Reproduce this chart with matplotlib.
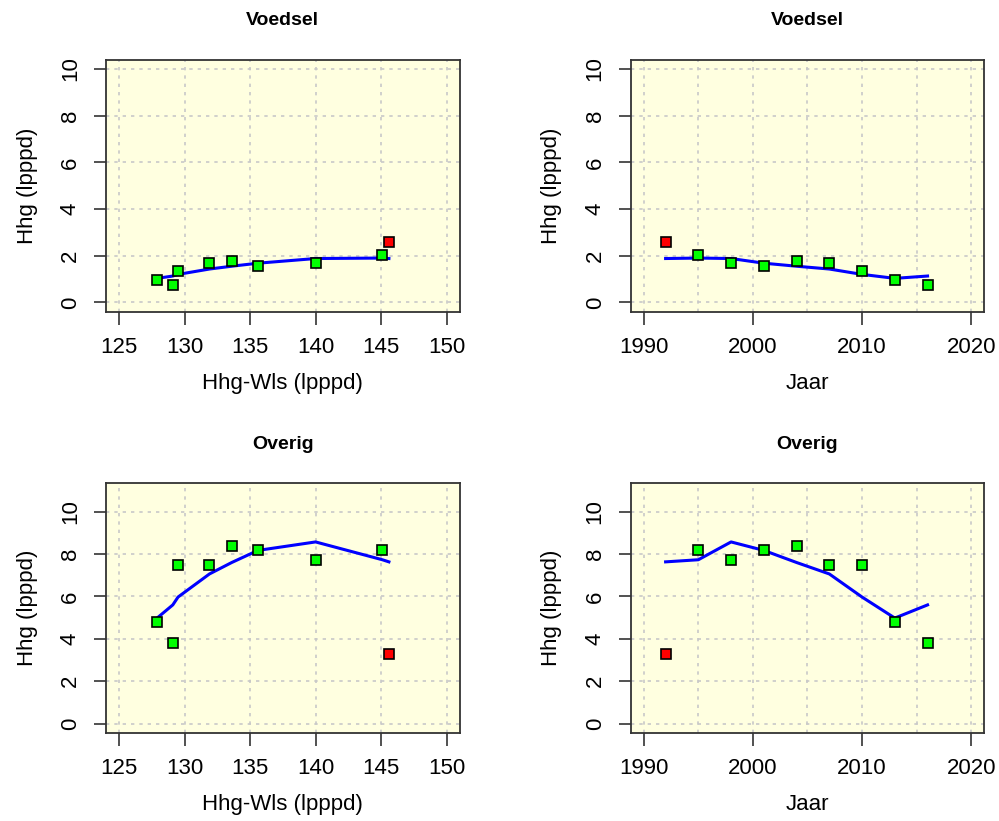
import numpy as np
import matplotlib
matplotlib.use("Agg")
import matplotlib.pyplot as plt

plt.rcParams['font.family'] = ['Liberation Sans', 'DejaVu Sans']

# data per year (first year is the outlier, drawn red)
jaar = [1992, 1995, 1998, 2001, 2004, 2007, 2010, 2013, 2016]
hhg_wls = [145.6, 145.1, 140.0, 135.6, 133.6, 131.9, 129.5, 127.9, 129.1]
voedsel = [2.6, 2.03, 1.7, 1.57, 1.77, 1.7, 1.36, 0.97, 0.76]
voedsel_fit = [1.88, 1.9, 1.88, 1.68, 1.55, 1.43, 1.2, 1.03, 1.13]
overig = [3.3, 8.19, 7.7, 8.19, 8.4, 7.49, 7.49, 4.81, 3.79]
overig_fit = [7.63, 7.73, 8.57, 8.17, 7.6, 7.06, 5.97, 4.98, 5.6]
uitschieter = [True, False, False, False, False, False, False, False, False]

xticks_wls = [125, 130, 135, 140, 145, 150]
xticks_jaar = [1990, 2000, 2010, 2020]
xgrid_jaar = [1990, 1995, 2000, 2005, 2010, 2015, 2020]
yticks = [0, 2, 4, 6, 8, 10]

fig = plt.figure(figsize=(9.99, 8.21), dpi=100)

lefts = [0.1061, 0.6313]
width = 0.3540
bottoms = [0.6203, 0.1072]
heights = [0.3070, 0.3040]
ylims = [(-0.4, 10.4), (-0.44, 11.33)]


def panel(ax, x, y, fit, title, xlabel, xticks, xgrid, xlim, ylim):
    x = np.array(x)
    y = np.array(y)
    fit = np.array(fit)
    out = np.array(uitschieter)
    ax.set_facecolor('#FFFFE0')
    for g in xgrid:
        ax.axvline(g, color='#C8C8C8', lw=1.2, ls=(0, (2, 3)), zorder=1)
    for g in yticks:
        ax.axhline(g, color='#C8C8C8', lw=1.2, ls=(0, (2, 3)), zorder=1)
    order = np.argsort(x)
    ax.plot(x[order], fit[order], color='blue', lw=2.2, zorder=3)
    ax.plot(x[~out], y[~out], 's', color='#00FF00', mec='black', mew=1.2, ms=7.5, zorder=4)
    ax.plot(x[out], y[out], 's', color='red', mec='black', mew=1.2, ms=7.5, zorder=4)
    ax.set_xlim(*xlim)
    ax.set_ylim(*ylim)
    ax.set_xticks(xticks)
    ax.set_yticks(yticks)
    ax.tick_params(labelsize=16, length=9, width=1.2, pad=9, color='#333333')
    for lab in ax.get_yticklabels():
        lab.set_rotation(90)
        lab.set_va('center')
    for s in ax.spines.values():
        s.set_linewidth(1.3)
        s.set_color('#333333')
    ax.set_xlabel(xlabel, fontsize=16, labelpad=11)
    ax.set_ylabel('Hhg (lpppd)', fontsize=16, labelpad=16)
    ax.set_title(title, fontsize=14, fontweight='bold', pad=25)


rows = [('Voedsel', voedsel, voedsel_fit), ('Overig', overig, overig_fit)]
for r, (title, vals, fit) in enumerate(rows):
    ax = fig.add_axes([lefts[0], bottoms[r], width, heights[r]])
    panel(ax, hhg_wls, vals, fit, title, 'Hhg-Wls (lpppd)', xticks_wls, xticks_wls, (124, 151), ylims[r])
    ax = fig.add_axes([lefts[1], bottoms[r], width, heights[r]])
    panel(ax, jaar, vals, fit, title, 'Jaar', xticks_jaar, xgrid_jaar, (1988.8, 2021.2), ylims[r])

fig.savefig('out.png', dpi=100)
